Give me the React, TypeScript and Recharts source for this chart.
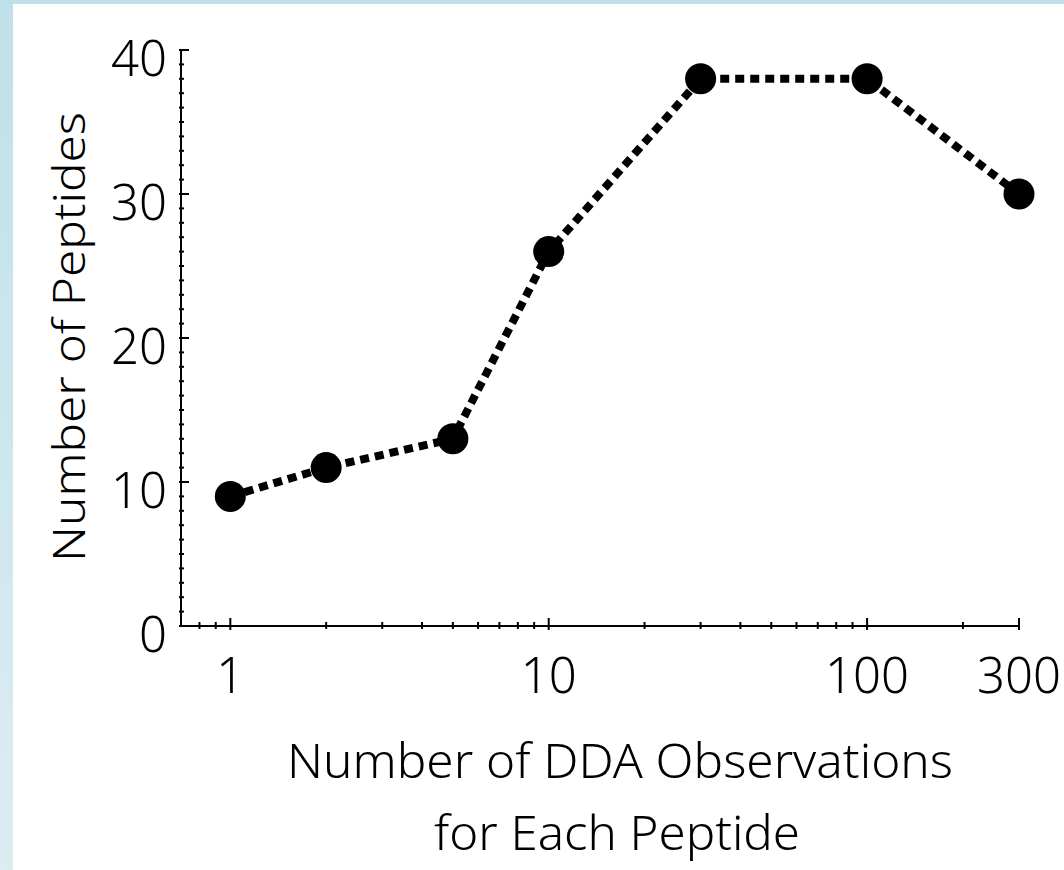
import { Line, LineChart, XAxis, YAxis } from "recharts"

const observations = [1, 2, 5, 10, 30, 100, 300]
const peptides = [9, 11, 13, 26, 38, 38, 30]

const xTicks = [0.8, 0.9, 1, 2, 3, 4, 5, 6, 7, 8, 9, 10, 20, 30, 40, 50, 60, 70, 80, 90, 100, 200, 300]
const xLabels = [1, 10, 100, 300]
const yTicks = Array.from({ length: 41 }, (_, i) => i)
const yLabels = [0, 10, 20, 30, 40]

const data = observations.map((obs, i) => ({ obs, peptides: peptides[i] }))

const FONT = "'Noto Sans', 'Liberation Sans', Arial, sans-serif"
const WEIGHT = 300

const XTick = ({ x, y, payload }: any) => {
  const major = xLabels.includes(payload.value)
  return (
    <g>
      <line x1={x} x2={x} y1={y - (major ? 8 : 4)} y2={y + (major ? 4 : 3)} stroke="#000" strokeWidth={2} />
      {major && (
        <text x={x} y={y + 67} textAnchor="middle" fontSize={49} fontWeight={WEIGHT} fill="#000" fontFamily={FONT}>
          {payload.value}
        </text>
      )}
    </g>
  )
}

const YTick = ({ x, y, payload }: any) => {
  const major = yLabels.includes(payload.value)
  return (
    <g>
      <line x1={x - 2} x2={x + (major ? 8 : 3)} y1={y} y2={y} stroke="#000" strokeWidth={2} />
      {major && (
        <text x={x - 14} y={y + 26} textAnchor="end" fontSize={49} fontWeight={WEIGHT} fill="#000" fontFamily={FONT}>
          {payload.value}
        </text>
      )}
    </g>
  )
}

const XTitle = () => (
  <g fontFamily={FONT} fontSize={48} fontWeight={WEIGHT} fill="#000">
    <text x={287} y={778} textLength={666} lengthAdjust="spacingAndGlyphs">
      Number of  DDA Observations
    </text>
    <text x={434} y={850} textLength={366} lengthAdjust="spacingAndGlyphs">
      for Each Peptide
    </text>
  </g>
)

const YTitle = () => (
  <text
    x={85}
    y={562}
    transform="rotate(-90 85 562)"
    textLength={450}
    lengthAdjust="spacingAndGlyphs"
    fontFamily={FONT}
    fontSize={44}
    fontWeight={WEIGHT}
    fill="#000"
  >
    Number of  Peptides
  </text>
)

export default function App() {
  return (
    <div
      style={{
        position: "absolute",
        left: 0,
        top: 0,
        width: 1064,
        height: 870,
        background: "linear-gradient(180deg, #bfe0ea 0%, #dcedf2 100%)",
        overflow: "hidden",
      }}
    >
      <div style={{ position: "absolute", left: 13, top: 4, right: 0, bottom: 0, background: "#fff" }} />
      <div style={{ position: "absolute", left: 0, top: 0 }}>
        <LineChart width={1064} height={870} data={data} margin={{ top: 50, right: 45, bottom: 0, left: 0 }}>
          <XAxis
            dataKey="obs"
            type="number"
            scale="log"
            domain={[0.7, 300]}
            ticks={xTicks}
            interval={0}
            height={244}
            tickSize={0}
            tickMargin={0}
            tickLine={false}
            tick={<XTick />}
            axisLine={{ stroke: "#000", strokeWidth: 2 }}
            label={<XTitle />}
          />
          <YAxis
            type="number"
            domain={[0, 40]}
            ticks={yTicks}
            interval={0}
            width={181}
            tickSize={0}
            tickMargin={0}
            tickLine={false}
            tick={<YTick />}
            axisLine={{ stroke: "#000", strokeWidth: 2 }}
            label={<YTitle />}
          />
          <Line
            type="linear"
            dataKey="peptides"
            stroke="#000"
            strokeWidth={8}
            strokeDasharray="9 6"
            dot={{ r: 15.5, fill: "#000", stroke: "none" }}
            activeDot={false}
            isAnimationActive={false}
          />
        </LineChart>
      </div>
    </div>
  )
}
